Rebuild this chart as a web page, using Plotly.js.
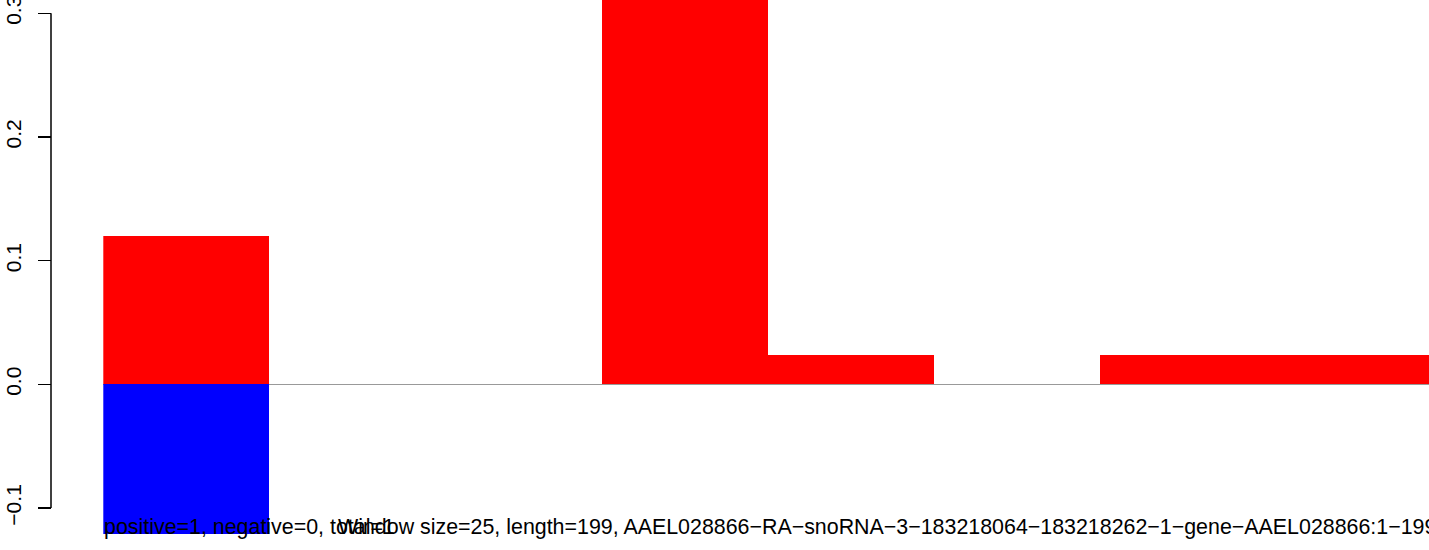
<!DOCTYPE html>
<html>
<head>
<meta charset="utf-8">
<script src="https://cdn.plot.ly/plotly-3.0.1.min.js"></script>
<style>
html,body{margin:0;padding:0;background:#fff;}
#chart{width:1429px;height:550px;}
</style>
</head>
<body>
<div id="chart"></div>
<script>
// window start positions (window size 25, length 199)
const windowStart = [0, 25, 50, 75, 100, 125, 150, 175];
const windowSize = 25;
const positiveValues = [0.12, 0, 0, 0.34, 0.024, 0, 0.024, 0.024];
const negativeValues = [-0.121, 0, 0, 0, 0, 0, 0, 0];
const yTickVals = [-0.1, 0.0, 0.1, 0.2, 0.3];
const yTickText = ['\u22120.1', '0.0', '0.1', '0.2', '0.3'];
const leftLabel = 'positive=1, negative=0, total=1';
const bottomLabel = 'Window size=25, length=199, AAEL028866\u2212RA\u2212snoRNA\u22123\u2212183218064\u2212183218262\u22121\u2212gene\u2212AAEL028866:1\u2212199';

const W = 1429, H = 550;
const font = 'Liberation Sans, Arial, Helvetica, sans-serif';

const traces = [
  {
    type: 'bar', x: windowStart, y: positiveValues,
    width: windowStart.map(() => windowSize), offset: 0,
    marker: {color: '#FF0000', line: {width: 0}},
    hoverinfo: 'skip', cliponaxis: true
  },
  {
    type: 'bar', x: windowStart, y: negativeValues,
    width: windowStart.map(() => windowSize), offset: 0,
    marker: {color: '#0000FF', line: {width: 0}},
    hoverinfo: 'skip', cliponaxis: true
  }
];

const axisX = 51 / W;

const layout = {
  width: W, height: H,
  margin: {l: 0, r: 0, t: 0, b: 0, pad: 0},
  paper_bgcolor: '#ffffff', plot_bgcolor: '#ffffff',
  showlegend: false,
  barmode: 'overlay',
  bargap: 0,
  font: {family: font, size: 21, color: '#000'},
  xaxis: {
    domain: [103.3 / W, 1],
    range: [0, 199.5],
    showgrid: false, zeroline: false, showline: false,
    showticklabels: false, ticks: '',
    fixedrange: true
  },
  yaxis: {
    anchor: 'free', position: axisX,
    range: [-0.1339, 0.3108],
    showgrid: false,
    zeroline: true, zerolinecolor: '#999999', zerolinewidth: 1.5,
    showline: false,
    ticks: 'outside', ticklen: 13, tickwidth: 1.5, tickcolor: '#000',
    tickvals: yTickVals, ticktext: yTickText,
    tickangle: -90,
    tickfont: {family: font, size: 21, color: '#000'},
    ticklabelstandoff: 9,
    ticklabeloverflow: 'allow',
    fixedrange: true
  },
  shapes: [
    {type: 'line', xref: 'paper', yref: 'y', x0: axisX, x1: axisX,
     y0: -0.1, y1: 0.3, line: {color: '#000', width: 1.5}}
  ],
  annotations: [
    {xref: 'paper', yref: 'paper', x: 102 / W, y: 9 / H, xanchor: 'left', yanchor: 'bottom',
     text: leftLabel, showarrow: false, font: {family: font, size: 21.4, color: '#000'}},
    {xref: 'paper', yref: 'paper', x: 336 / W, y: 9 / H, xanchor: 'left', yanchor: 'bottom',
     text: bottomLabel, showarrow: false, font: {family: font, size: 21.4, color: '#000'}}
  ]
};

Plotly.newPlot('chart', traces, layout, {staticPlot: true, displayModeBar: false});
</script>
</body>
</html>
